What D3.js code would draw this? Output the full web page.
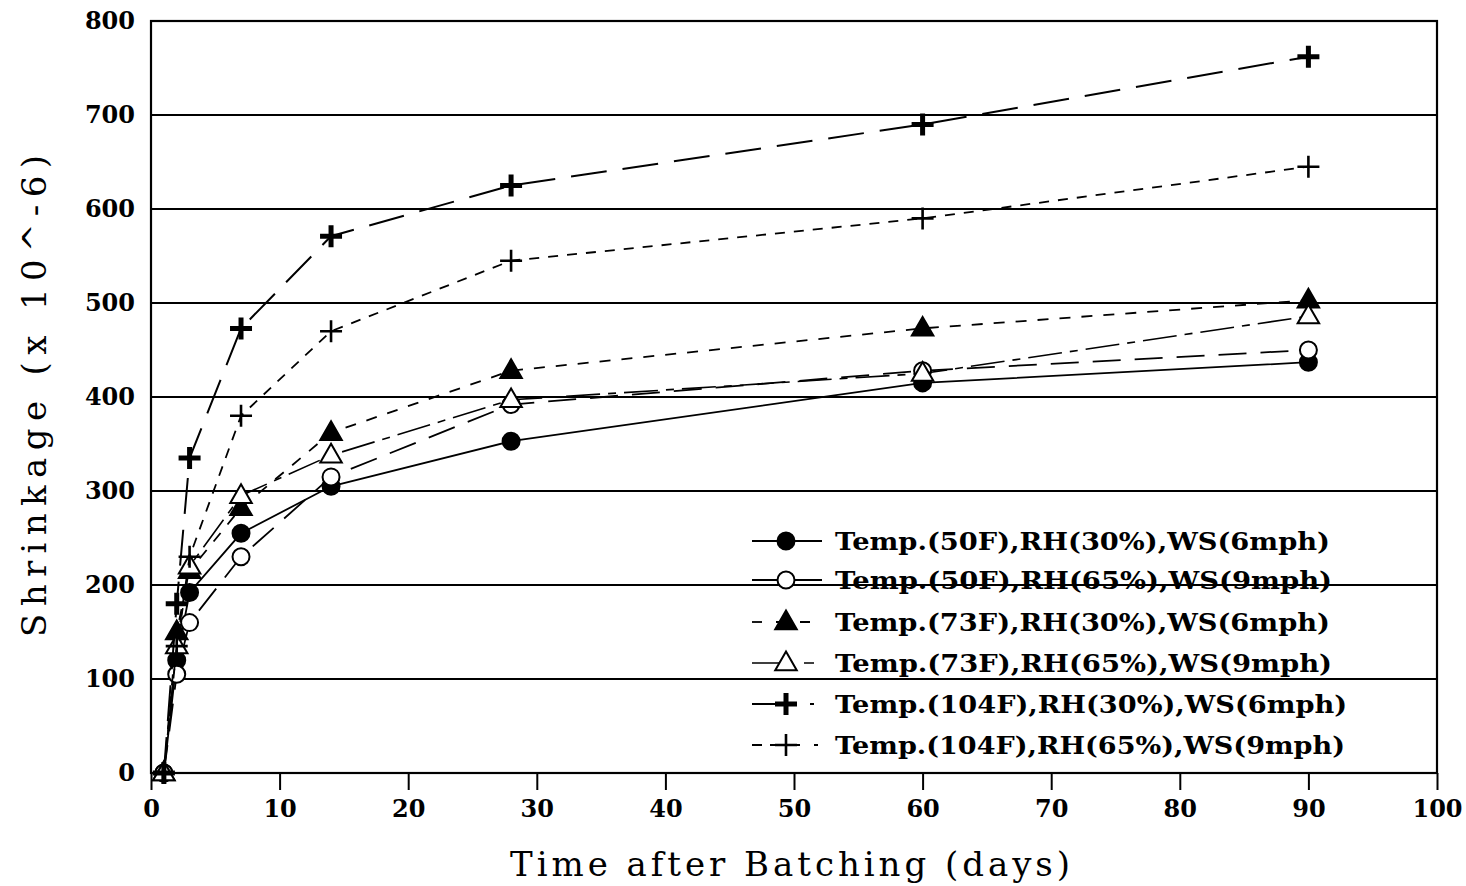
<!DOCTYPE html>
<html><head><meta charset="utf-8">
<script src="https://cdn.jsdelivr.net/npm/d3@7"></script>
<style>body{margin:0;background:#fff}svg{display:block}</style>
</head><body>
<svg id="c" width="1466" height="886"></svg>
<script>
const days = [1, 2, 3, 7, 14, 28, 60, 90];
const s50_30 = [0, 120, 192, 255, 305, 353, 415, 437];
const s50_65 = [0, 105, 160, 230, 315, 392, 428, 450];
const s73_30 = [0, 150, 215, 282, 362, 428, 473, 503];
const s73_65 = [0, 135, 220, 295, 338, 397, 425, 486];
const s104_30 = [0, 180, 335, 473, 571, 625, 690, 762];
const s104_65 = [0, 135, 230, 380, 470, 545, 590, 645];
const seriesNames = [
  "Temp.(50F),RH(30%),WS(6mph)",
  "Temp.(50F),RH(65%),WS(9mph)",
  "Temp.(73F),RH(30%),WS(6mph)",
  "Temp.(73F),RH(65%),WS(9mph)",
  "Temp.(104F),RH(30%),WS(6mph)",
  "Temp.(104F),RH(65%),WS(9mph)"
];
const xTicks = [0,10,20,30,40,50,60,70,80,90,100];
const yTicks = [0,100,200,300,400,500,600,700,800];
const xTitle = "Time after Batching (days)";
const yTitle = "Shrinkage (x 10^-6)";

const styles = [
  {dash:null, marker:"circle", fill:"#000", w:1.8, leg:null},
  {dash:"28,14", marker:"circle", fill:"#fff", w:1.8, leg:null},
  {dash:"11,11", marker:"triangle", fill:"#000", w:1.8, leg:"10,14"},
  {dash:"34,8,8,8", marker:"triangle", fill:"#fff", w:1.6, leg:"40,12,10,30"},
  {dash:"36,16", marker:"plusBold", fill:"#000", w:2, leg:"42,16,4,30"},
  {dash:"10,9", marker:"plus", fill:"#000", w:1.8, leg:"10,8,30,14,4,30"}
];
const data = [s50_30, s50_65, s73_30, s73_65, s104_30, s104_65];

const svg = d3.select("#c");
const L = 151, R = 1437, T = 21, B = 773;
const x = d3.scaleLinear().domain([0,100]).range([L,R]);
const y = d3.scaleLinear().domain([0,800]).range([B,T]);
const serif = "'DejaVu Serif', 'Liberation Serif', serif";

// gridlines
svg.append("g").selectAll("line").data(yTicks).join("line")
  .attr("x1", L).attr("x2", R).attr("y1", d=>y(d)).attr("y2", d=>y(d))
  .attr("stroke","#000").attr("stroke-width",2);
// frame
svg.append("rect").attr("x",L).attr("y",T).attr("width",R-L).attr("height",B-T)
  .attr("fill","none").attr("stroke","#000").attr("stroke-width",2.2);

// x axis
const xa = svg.append("g").attr("transform",`translate(0,${B})`)
  .call(d3.axisBottom(x).tickValues(xTicks).tickSize(17).tickPadding(10).tickFormat(d3.format("d")));
xa.select(".domain").remove();
xa.selectAll("line").attr("stroke","#000").attr("stroke-width",2);
xa.selectAll("text").attr("font-family",serif).attr("font-weight","bold").attr("font-size",24).attr("fill","#000");
// y axis
const ya = svg.append("g").attr("transform",`translate(${L},0)`)
  .call(d3.axisLeft(y).tickValues(yTicks).tickSize(0).tickPadding(16).tickFormat(d3.format("d")));
ya.select(".domain").remove();
ya.selectAll("text").attr("font-family",serif).attr("font-weight","bold").attr("font-size",24).attr("fill","#000");

// titles
svg.append("text").attr("x",790).attr("y",876).attr("text-anchor","middle")
  .attr("font-family",serif).attr("font-size",34).attr("textLength",560).attr("lengthAdjust","spacing")
  .text(xTitle);
svg.append("text").attr("transform","translate(46,396) rotate(-90)").attr("text-anchor","middle")
  .attr("font-family",serif).attr("font-size",34).attr("textLength",482).attr("lengthAdjust","spacing")
  .text(yTitle);

function drawMarker(g, type, fill, cx, cy){
  if(type==="circle"){
    g.append("circle").attr("cx",cx).attr("cy",cy).attr("r",8.5).attr("fill",fill).attr("stroke","#000").attr("stroke-width",2);
  } else if(type==="triangle"){
    g.append("path").attr("d",d3.symbol().type(d3.symbolTriangle).size(200)())
      .attr("transform",`translate(${cx},${cy+1})`).attr("fill",fill).attr("stroke","#000").attr("stroke-width",2);
  } else if(type==="plusBold"){
    g.append("path").attr("d",`M${cx-11},${cy}H${cx+11}M${cx},${cy-11}V${cy+11}`)
      .attr("stroke","#000").attr("stroke-width",5).attr("fill","none");
  } else {
    g.append("path").attr("d",`M${cx-11},${cy}H${cx+11}M${cx},${cy-11}V${cy+11}`)
      .attr("stroke","#000").attr("stroke-width",2.6).attr("fill","none");
  }
}

const line = d3.line().x(d=>x(d[0])).y(d=>y(d[1]));
data.forEach((vals,i)=>{
  const st = styles[i];
  const pts = days.map((d,j)=>[d, vals[j]]);
  const g = svg.append("g");
  g.append("path").datum(pts).attr("d",line).attr("fill","none").attr("stroke","#000")
    .attr("stroke-width",st.w).attr("stroke-dasharray",st.dash);
  pts.forEach(p=>drawMarker(g, st.marker, st.fill, x(p[0]), y(p[1])));
});

// legend
const legY = [541, 580, 622, 663, 704, 745];
const legW = [495, 497, 495, 497, 512, 510];
seriesNames.forEach((name,i)=>{
  const st = styles[i];
  const g = svg.append("g");
  g.append("line").attr("x1",752).attr("x2",822).attr("y1",legY[i]).attr("y2",legY[i])
    .attr("stroke","#000").attr("stroke-width",st.w).attr("stroke-dasharray", st.leg);
  drawMarker(g, st.marker, st.fill, 786, legY[i]);
  g.append("text").attr("x",835).attr("y",legY[i]).attr("dy","0.36em")
    .attr("font-family",serif).attr("font-weight","bold").attr("font-size",25)
    .attr("textLength",legW[i]).attr("lengthAdjust","spacingAndGlyphs").text(name);
});
</script>
</body></html>
